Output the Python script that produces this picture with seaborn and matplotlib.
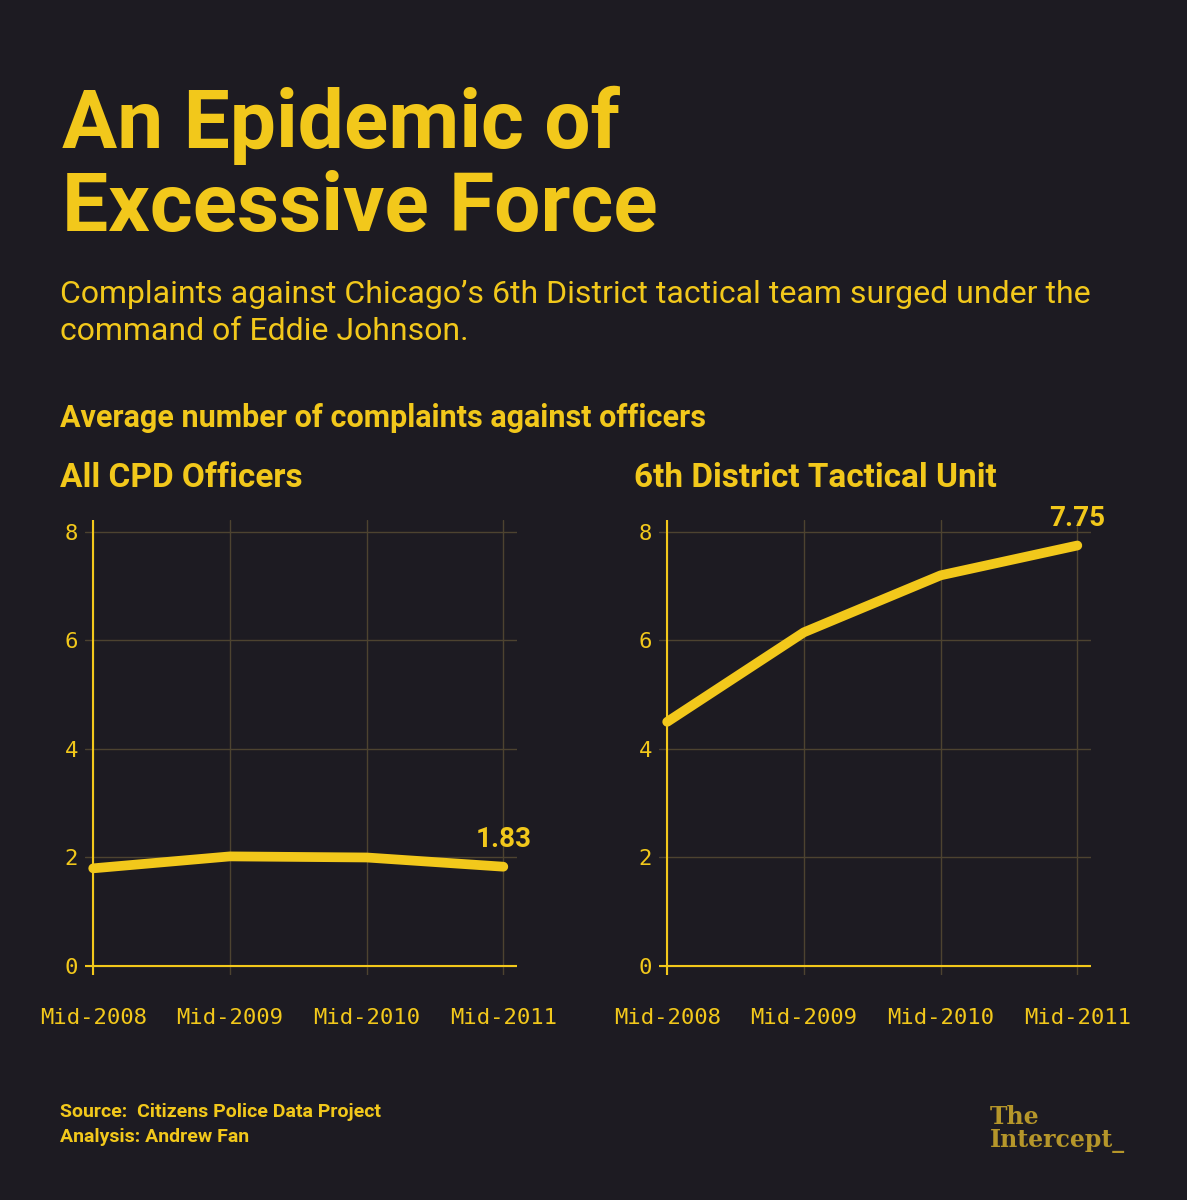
import matplotlib
matplotlib.use("Agg")
import matplotlib.pyplot as plt
import seaborn as sns
import pandas as pd

periods = ["Mid-2008", "Mid-2009", "Mid-2010", "Mid-2011"]
all_cpd = [1.80, 2.02, 2.00, 1.83]
tactical = [4.50, 6.15, 7.20, 7.75]
yticks = [0, 2, 4, 6, 8]

BG = "#1d1b22"
YEL = "#f2c81b"
GRID = "#4d4330"

sns.set_theme(style="dark")
plt.rcParams['font.family'] = ['Liberation Sans Narrow', 'Roboto', 'DejaVu Sans']

fig = plt.figure(figsize=(11.87, 12), dpi=100, facecolor=BG)
W, H = 1187, 1200
def fy(px): return 1 - px / H

fig.text(62/W, fy(86), "An Epidemic of\nExcessive Force", color=YEL, fontsize=59,
         fontweight="bold", va="top", ha="left", linespacing=1.08)
fig.text(60/W, fy(280), "Complaints against Chicago\u2019s 6th District tactical team surged under the\ncommand of Eddie Johnson.",
         color=YEL, fontsize=23, va="top", ha="left", family=['Roboto', 'DejaVu Sans'], linespacing=1.35)
fig.text(60/W, fy(403), "Average number of complaints against officers", color=YEL, fontsize=22,
         fontweight="bold", va="top", ha="left")

def panel(left_px, title, vals, label):
    ax = fig.add_axes([left_px/W, 1-975/H, 432/W, 455/H])
    ax.set_facecolor(BG)
    df = pd.DataFrame({"x": range(len(vals)), "y": vals})
    sns.lineplot(data=df, x="x", y="y", ax=ax, color=YEL, lw=7, solid_capstyle="round")
    ax.set_xlim(-0.06, 3.1)
    ax.set_ylim(-0.166, 8.22)
    for s in ax.spines.values():
        s.set_visible(False)
    ax.set_xticks(range(len(periods)))
    ax.set_xticklabels(periods)
    ax.set_yticks(yticks)
    ax.tick_params(length=0, colors=YEL, labelsize=16)
    for t in ax.get_xticklabels() + ax.get_yticklabels():
        t.set_family("DejaVu Sans Mono")
    ax.tick_params(axis="x", pad=24)
    ax.tick_params(axis="y", pad=5)
    ax.grid(True, color=GRID, lw=1)
    ax.axhline(0, color=YEL, lw=1.5, xmin=0, xmax=1)
    ax.axvline(0, color=YEL, lw=1.5)
    ax.set_xlabel(""); ax.set_ylabel("")
    ax.text(3, vals[-1] + 0.25, label, color=YEL, fontsize=20, fontweight="bold",
            ha="center", va="bottom", family=['Roboto', 'DejaVu Sans'])
    fig.text((left_px - 25)/W, fy(462), title, color=YEL, fontsize=24, fontweight="bold",
             va="top", ha="left")

panel(85, "All CPD Officers", all_cpd, "1.83")
panel(659, "6th District Tactical Unit", tactical, "7.75")

fig.text(60/W, fy(1103), "Source:  Citizens Police Data Project\nAnalysis: Andrew Fan", color=YEL,
         fontsize=14, fontweight="bold", va="top", ha="left", linespacing=1.5)
fig.text(990/W, fy(1105), "The\nIntercept_", color="#b5962a", fontsize=17, fontweight="bold",
         va="top", ha="left", family=['DejaVu Serif'], linespacing=0.95)

fig.savefig("out.png", dpi=100, facecolor=BG)
